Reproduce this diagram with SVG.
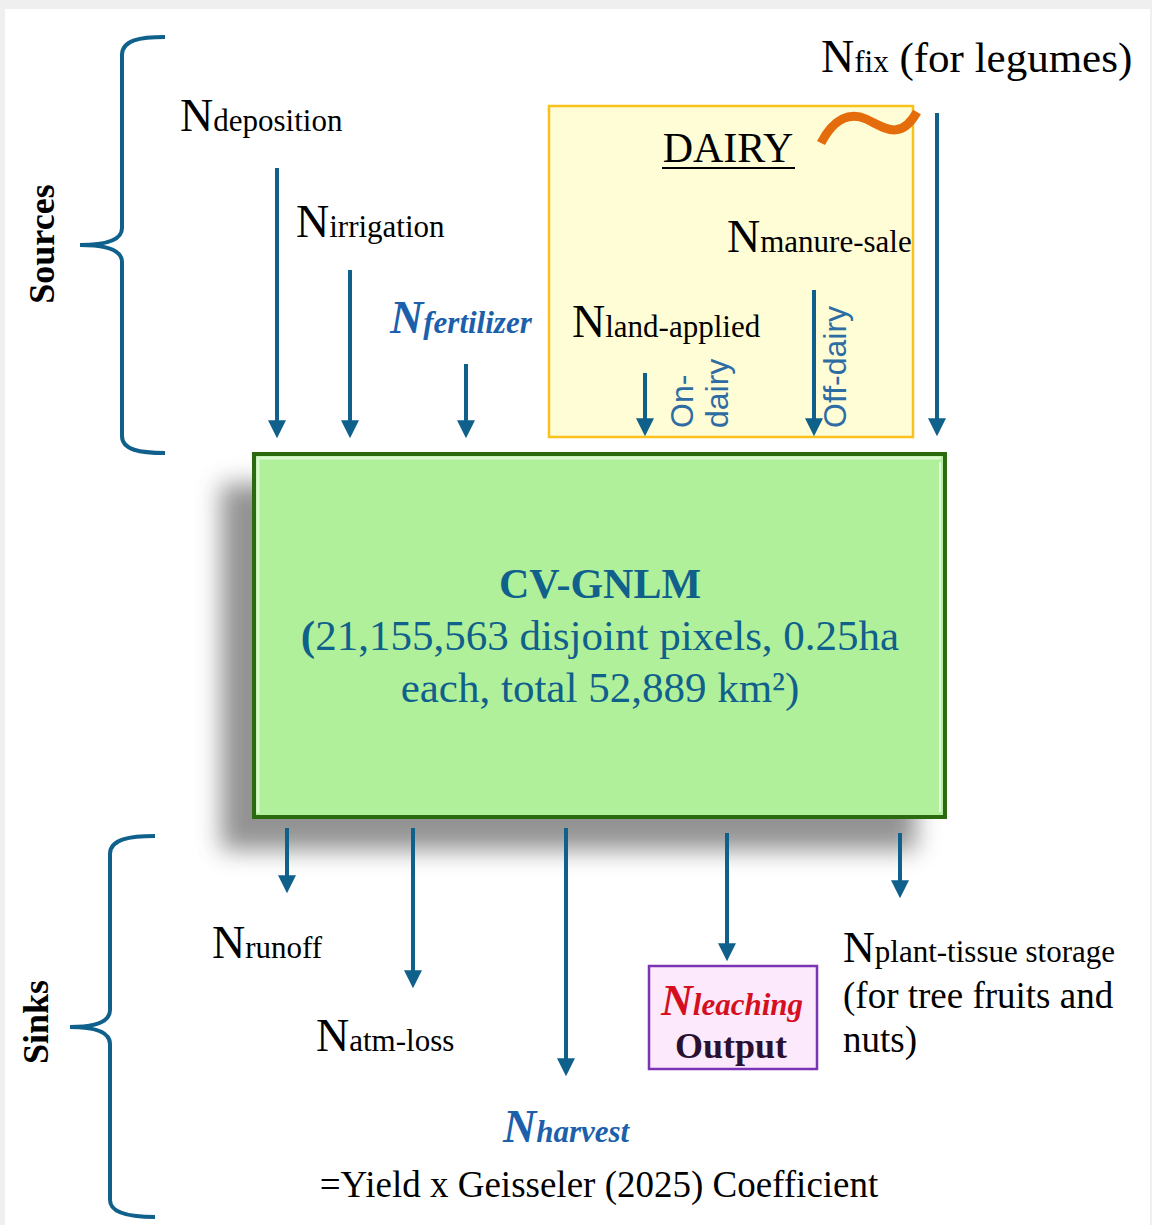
<svg xmlns="http://www.w3.org/2000/svg" width="1152" height="1225" viewBox="0 0 1152 1225">
<defs>
<style>
.serif{font-family:"Liberation Serif","Times New Roman",serif;fill:#000}
.big{font-size:46px}
.sub{font-size:31px}
.bi{font-weight:bold;font-style:italic}
.blue{fill:#1c5fab}
.teal{fill:#10608c}
.lbl{font-family:"Liberation Sans",Arial,sans-serif;font-size:32px;fill:#2e6ca4}
.arr{stroke:#10608c;stroke-width:4;fill:none;marker-end:url(#ah)}
.brace{stroke:#10608c;stroke-width:4;fill:none}
.side{font-family:"Liberation Serif","Times New Roman",serif;font-size:36px;font-weight:bold;fill:#000}
</style>
<marker id="ah" viewBox="0 0 10 10" refX="1" refY="5" markerWidth="18" markerHeight="18" markerUnits="userSpaceOnUse" orient="auto">
<path d="M0,0 L10,5 L0,10 z" fill="#10608c"/>
</marker>
<filter id="blur" x="-20%" y="-20%" width="140%" height="140%">
<feGaussianBlur stdDeviation="12"/>
</filter>
</defs>
<rect x="0" y="0" width="1152" height="1225" fill="#efefef"/>
<rect x="5" y="9" width="1145" height="1216" fill="#ffffff"/>

<g id="sources">
<path class="brace" d="M165,37 C140,37 122,40 122,55 L122,228 C122,240 105,245 80,245 C105,245 122,250 122,262 L122,436 C122,450 140,453 165,453"/>
<text class="side" transform="translate(54,244) rotate(-90)" text-anchor="middle">Sources</text>
</g>

<g id="sinks">
<path class="brace" d="M155,836 C130,836 110,839 110,854 L110,1010 C110,1022 95,1027 70,1027 C95,1027 110,1032 110,1044 L110,1200 C110,1213 130,1217 155,1217"/>
<text class="side" transform="translate(48,1022) rotate(-90)" text-anchor="middle">Sinks</text>
</g>

<g id="dairy">
<rect x="549" y="106" width="364" height="331" fill="#fffdd6" stroke="#f8c11c" stroke-width="2.5"/>
<text class="serif" x="728" y="162" font-size="42" text-anchor="middle">DAIRY</text>
<line x1="662" y1="168" x2="795" y2="168" stroke="#000" stroke-width="2"/>
<path d="M821,143 C834,118 850,112 866,119 C884,127 900,142 917,112" fill="none" stroke="#e46c0a" stroke-width="9"/>
</g>

<g id="main-box">
<rect x="221" y="484" width="695" height="366" fill="#777" opacity="0.8" filter="url(#blur)"/>
<rect x="254" y="454" width="691" height="363" fill="#b0f09a" stroke="#2c6a0f" stroke-width="4"/>
<path d="M258,813 L258,458 L941,458" fill="none" stroke="#dcf8d0" stroke-width="3"/>
<path d="M940,462 L940,812" fill="none" stroke="#f2fff0" stroke-width="2" opacity="0.8"/>
<text class="serif teal" x="600" y="598" font-size="42" font-weight="bold" text-anchor="middle">CV-GNLM</text>
<text class="serif teal" x="600" y="650" font-size="43" text-anchor="middle"><tspan font-weight="bold">(</tspan>21,155,563 disjoint pixels, 0.25ha</text>
<text class="serif teal" x="600" y="702" font-size="43" text-anchor="middle">each, total 52,889 km²)</text>
</g>

<g id="n-deposition">
<text class="serif" x="180" y="131"><tspan class="big">N</tspan><tspan class="sub">deposition</tspan></text>
</g>
<g id="n-irrigation">
<text class="serif" x="296" y="237"><tspan class="big">N</tspan><tspan class="sub">irrigation</tspan></text>
</g>
<g id="n-fertilizer">
<text class="serif bi blue" x="390" y="333"><tspan class="big">N</tspan><tspan class="sub">fertilizer</tspan></text>
</g>
<g id="n-manure-sale">
<text class="serif" x="727" y="252"><tspan class="big">N</tspan><tspan class="sub">manure-sale</tspan></text>
</g>
<g id="n-land-applied">
<text class="serif" x="572" y="337"><tspan class="big">N</tspan><tspan class="sub">land-applied</tspan></text>
</g>
<g id="on-dairy">
<text class="lbl" transform="translate(693,428) rotate(-90)">On-</text>
<text class="lbl" transform="translate(728,428) rotate(-90)">dairy</text>
</g>
<g id="off-dairy">
<text class="lbl" transform="translate(846,428) rotate(-90)">Off-dairy</text>
</g>
<g id="n-fix">
<text class="serif" x="821" y="72"><tspan class="big">N</tspan><tspan class="sub">fix</tspan><tspan font-size="43"> (for legumes)</tspan></text>
</g>

<g id="n-runoff">
<text class="serif" x="212" y="958"><tspan class="big">N</tspan><tspan class="sub">runoff</tspan></text>
</g>
<g id="n-atm-loss">
<text class="serif" x="316" y="1051"><tspan class="big">N</tspan><tspan class="sub">atm-loss</tspan></text>
</g>
<g id="n-harvest">
<text class="serif bi blue" x="503" y="1142"><tspan class="big">N</tspan><tspan class="sub">harvest</tspan></text>
<text class="serif" x="599" y="1197" font-size="37" text-anchor="middle">=Yield x Geisseler (2025) Coefficient</text>
</g>
<g id="n-leaching">
<rect x="649" y="966" width="168" height="103" fill="#fce9fb" stroke="#7a34b4" stroke-width="2.5"/>
<text class="serif bi" x="661" y="1015" style="fill:#d5101e"><tspan font-size="44">N</tspan><tspan font-size="31">leaching</tspan></text>
<text class="serif" x="731" y="1058" font-size="36" font-weight="bold" text-anchor="middle" style="fill:#2a1030">Output</text>
</g>
<g id="n-plant-tissue">
<text class="serif" x="843" y="962"><tspan font-size="44">N</tspan><tspan class="sub">plant-tissue storage</tspan></text>
<text class="serif" x="843" y="1008" font-size="37">(for tree fruits and</text>
<text class="serif" x="843" y="1052" font-size="37">nuts)</text>
</g>

<g id="connectors">
<line class="arr" x1="277" y1="168" x2="277" y2="422"/>
<line class="arr" x1="350" y1="270" x2="350" y2="422"/>
<line class="arr" x1="466" y1="364" x2="466" y2="422"/>
<line class="arr" x1="645" y1="373" x2="645" y2="420"/>
<line class="arr" x1="814" y1="290" x2="814" y2="420"/>
<line class="arr" x1="937" y1="113" x2="937" y2="420"/>
<line class="arr" x1="287" y1="828" x2="287" y2="877"/>
<line class="arr" x1="413" y1="828" x2="413" y2="972"/>
<line class="arr" x1="566" y1="828" x2="566" y2="1060"/>
<line class="arr" x1="727" y1="833" x2="727" y2="945"/>
<line class="arr" x1="900" y1="833" x2="900" y2="882"/>
</g>
</svg>
